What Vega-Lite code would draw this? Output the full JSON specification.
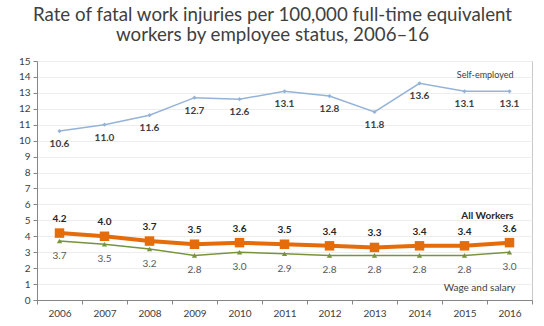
{
  "$schema": "https://vega.github.io/schema/vega-lite/v6.json",
  "width": 495,
  "height": 239,
  "autosize": "none",
  "padding": {"left": 37, "top": 61, "right": 12, "bottom": 26},
  "background": "white",
  "config": {"view": {"stroke": "#c8c8c8", "strokeWidth": 1}, "font": "Lato"},
  "title": {
    "text": ["Rate of fatal work injuries per 100,000 full-time equivalent", "workers by employee status, 2006–16"],
    "fontSize": 18.7, "font": "Lato", "fontWeight": "normal", "color": "#404040",
    "anchor": "middle", "lineHeight": 20, "offset": 11, "dx": -12
  },
  "datasets": {
    "rates": [
      {"year": "2006", "series": "Self-employed", "value": 10.6},
      {"year": "2007", "series": "Self-employed", "value": 11.0},
      {"year": "2008", "series": "Self-employed", "value": 11.6},
      {"year": "2009", "series": "Self-employed", "value": 12.7},
      {"year": "2010", "series": "Self-employed", "value": 12.6},
      {"year": "2011", "series": "Self-employed", "value": 13.1},
      {"year": "2012", "series": "Self-employed", "value": 12.8},
      {"year": "2013", "series": "Self-employed", "value": 11.8},
      {"year": "2014", "series": "Self-employed", "value": 13.6},
      {"year": "2015", "series": "Self-employed", "value": 13.1},
      {"year": "2016", "series": "Self-employed", "value": 13.1},
      {"year": "2006", "series": "All Workers", "value": 4.2},
      {"year": "2007", "series": "All Workers", "value": 4.0},
      {"year": "2008", "series": "All Workers", "value": 3.7},
      {"year": "2009", "series": "All Workers", "value": 3.5},
      {"year": "2010", "series": "All Workers", "value": 3.6},
      {"year": "2011", "series": "All Workers", "value": 3.5},
      {"year": "2012", "series": "All Workers", "value": 3.4},
      {"year": "2013", "series": "All Workers", "value": 3.3},
      {"year": "2014", "series": "All Workers", "value": 3.4},
      {"year": "2015", "series": "All Workers", "value": 3.4},
      {"year": "2016", "series": "All Workers", "value": 3.6},
      {"year": "2006", "series": "Wage and salary", "value": 3.7},
      {"year": "2007", "series": "Wage and salary", "value": 3.5},
      {"year": "2008", "series": "Wage and salary", "value": 3.2},
      {"year": "2009", "series": "Wage and salary", "value": 2.8},
      {"year": "2010", "series": "Wage and salary", "value": 3.0},
      {"year": "2011", "series": "Wage and salary", "value": 2.9},
      {"year": "2012", "series": "Wage and salary", "value": 2.8},
      {"year": "2013", "series": "Wage and salary", "value": 2.8},
      {"year": "2014", "series": "Wage and salary", "value": 2.8},
      {"year": "2015", "series": "Wage and salary", "value": 2.8},
      {"year": "2016", "series": "Wage and salary", "value": 3.0}
    ],
    "seriesLabels": [
      {"year": "2016", "value": 14.12, "label": "Self-employed", "series": "Self-employed"},
      {"year": "2016", "value": 5.27, "label": "All Workers", "series": "All Workers"},
      {"year": "2016", "value": 0.75, "label": "Wage and salary", "series": "Wage and salary"}
    ]
  },
  "data": {"name": "rates"},
  "encoding": {
    "x": {
      "field": "year", "type": "ordinal",
      "scale": {"type": "band", "paddingInner": 0, "paddingOuter": 0},
      "axis": {
        "title": null, "labelAngle": 0, "labelFontSize": 10, "labelColor": "#404040",
        "tickBand": "extent", "tickSize": 4, "tickColor": "#868686",
        "domainColor": "#868686", "labelPadding": 4, "grid": false
      }
    },
    "y": {
      "field": "value", "type": "quantitative",
      "scale": {"domain": [0, 15], "nice": false},
      "axis": {
        "title": null, "values": [0,1,2,3,4,5,6,7,8,9,10,11,12,13,14,15],
        "labelFontSize": 10, "labelColor": "#404040", "tickSize": 4, "tickColor": "#868686",
        "domainColor": "#868686", "labelPadding": 3, "grid": true, "gridColor": "#ededed"
      }
    }
  },
  "layer": [
    {
      "transform": [{"filter": "datum.series === 'Self-employed'"}],
      "mark": {"type": "line", "color": "#95b3d7", "strokeWidth": 1.5, "point": {"filled": true, "size": 18, "shape": "diamond", "color": "#95b3d7"}}
    },
    {
      "transform": [{"filter": "datum.series === 'Wage and salary'"}],
      "mark": {"type": "line", "color": "#77933c", "strokeWidth": 1.5, "point": {"filled": true, "size": 28, "shape": "triangle-up", "color": "#77933c"}}
    },
    {
      "transform": [{"filter": "datum.series === 'All Workers'"}],
      "mark": {"type": "line", "color": "#e46c0a", "strokeWidth": 4, "point": {"filled": true, "size": 90, "shape": "square", "color": "#e46c0a"}}
    },
    {
      "transform": [{"filter": "datum.series === 'Self-employed'"}],
      "mark": {"type": "text", "dy": 13, "fontSize": 10, "fontWeight": "bold", "color": "#404040"},
      "encoding": {"text": {"field": "value", "type": "quantitative", "format": ".1f"}}
    },
    {
      "transform": [{"filter": "datum.series === 'All Workers'"}],
      "mark": {"type": "text", "dy": -14, "fontSize": 10, "fontWeight": "bold", "color": "#262626"},
      "encoding": {"text": {"field": "value", "type": "quantitative", "format": ".1f"}}
    },
    {
      "transform": [{"filter": "datum.series === 'Wage and salary'"}],
      "mark": {"type": "text", "dy": 15, "fontSize": 10, "color": "#595959"},
      "encoding": {"text": {"field": "value", "type": "quantitative", "format": ".1f"}}
    },
    {
      "data": {"name": "seriesLabels"},
      "transform": [{"filter": "datum.series === 'Self-employed'"}],
      "mark": {"type": "text", "align": "right", "baseline": "middle", "dx": 4, "fontSize": 9, "color": "#404040"},
      "encoding": {"text": {"field": "label"}}
    },
    {
      "data": {"name": "seriesLabels"},
      "transform": [{"filter": "datum.series === 'Wage and salary'"}],
      "mark": {"type": "text", "align": "right", "baseline": "middle", "dx": 6, "fontSize": 10, "color": "#404040"},
      "encoding": {"text": {"field": "label"}}
    },
    {
      "data": {"name": "seriesLabels"},
      "transform": [{"filter": "datum.series === 'All Workers'"}],
      "mark": {"type": "text", "align": "right", "baseline": "middle", "dx": 4, "fontSize": 10, "fontWeight": "bold", "color": "#262626"},
      "encoding": {"text": {"field": "label"}}
    }
  ]
}
